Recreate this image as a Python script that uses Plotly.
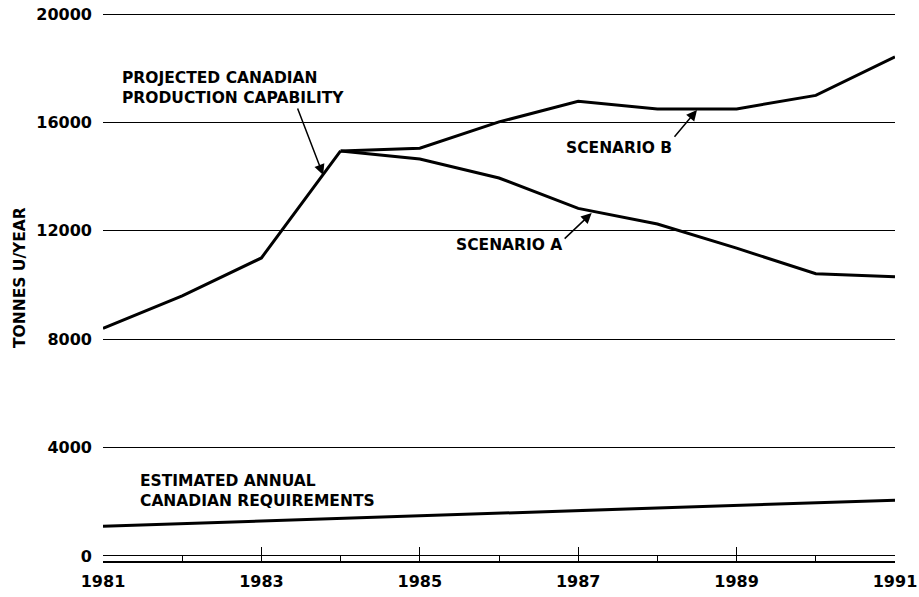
import plotly.graph_objects as go

# Data (tonnes U / year)
years_base = [1981, 1982, 1983, 1984]
production_base = [8400, 9600, 11000, 14950]

years_scen = [1984, 1985, 1986, 1987, 1988, 1989, 1990, 1991]
scenario_a = [14950, 14650, 13950, 12830, 12250, 11360, 10420, 10310]
scenario_b = [14950, 15050, 16020, 16780, 16500, 16500, 17000, 18420]

years_req = [1981, 1991]
requirements = [1100, 2060]

y_ticks = [0, 4000, 8000, 12000, 16000, 20000]
x_ticks = [1981, 1983, 1985, 1987, 1989, 1991]

LINE = dict(color="black", width=3)
FONT = dict(family="DejaVu Sans", size=15.5, color="black", weight="bold")

fig = go.Figure()
fig.add_trace(go.Scatter(x=years_base, y=production_base, mode="lines", line=LINE))
fig.add_trace(go.Scatter(x=years_scen, y=scenario_a, mode="lines", line=LINE))
fig.add_trace(go.Scatter(x=years_scen, y=scenario_b, mode="lines", line=LINE))
fig.add_trace(go.Scatter(x=years_req, y=requirements, mode="lines", line=LINE))

texts = [
    ("PROJECTED CANADIAN<br>PRODUCTION CAPABILITY", 1981.21, 17270, "left"),
    ("ESTIMATED ANNUAL<br>CANADIAN REQUIREMENTS", 1981.44, 2390, "left"),
    ("SCENARIO A", 1986.12, 11480, "center"),
    ("SCENARIO B", 1987.51, 15074, "center"),
]
annotations = []
for t, x, y, xa in texts:
    annotations.append(dict(text=t, x=x, y=y, xref="x", yref="y", xanchor=xa,
                            yanchor="middle", align="left", showarrow=False, font=FONT))

# y-axis title
annotations.append(dict(text="TONNES U/YEAR", x=-83 / 792, y=10258, xref="paper", yref="y",
                        xanchor="center", yanchor="middle", textangle=-90, showarrow=False,
                        font=dict(family="DejaVu Sans", size=15.5, color="black", weight="bold")))

arrows = [
    # head (x, y), tail (ax, ay)
    (1983.78, 14060, 1983.45, 16570),
    (1987.17, 12660, 1986.81, 11660),
    (1988.50, 16460, 1988.20, 15420),
]
for x, y, ax, ay in arrows:
    annotations.append(dict(text="", x=x, y=y, ax=ax, ay=ay, xref="x", yref="y",
                            axref="x", ayref="y", showarrow=True, arrowhead=2,
                            arrowsize=1.4, arrowwidth=1.5, arrowcolor="black",
                            standoff=0, startstandoff=0))

fig.update_layout(
    width=919, height=597,
    margin=dict(l=103, r=24, t=13, b=36),
    paper_bgcolor="white", plot_bgcolor="white",
    showlegend=False, hovermode=False,
    annotations=annotations,
    xaxis=dict(
        range=[1981, 1991], tickvals=x_ticks, ticktext=[str(v) for v in x_ticks],
        automargin=False, ticklabeloverflow="allow",
        showgrid=False, zeroline=False, showline=True, linecolor="black", linewidth=1.5,
        ticks="inside", ticklen=14, tickwidth=1.3, tickcolor="black",
        minor=dict(dtick=1, tick0=1981, ticks="inside", ticklen=5, tickwidth=1.3,
                   tickcolor="black", showgrid=False),
        tickfont=dict(family="DejaVu Sans", size=16, color="black", weight="bold"),
        ticklabelstandoff=5,
    ),
    yaxis=dict(
        range=[-185, 20040], tickvals=y_ticks, ticktext=[str(v) for v in y_ticks],
        automargin=False, ticklabeloverflow="allow",
        showgrid=True, gridcolor="black", gridwidth=1.3, zeroline=False,
        showline=False, ticks="",
        tickfont=dict(family="DejaVu Sans", size=16, color="black", weight="bold"),
        ticklabelstandoff=10,
    ),
)

# remove the default 8px page margin so the figure fills the window exactly
fig.write_html("out.html", config={"displayModeBar": False},
               post_script="document.body.style.margin='0';")
